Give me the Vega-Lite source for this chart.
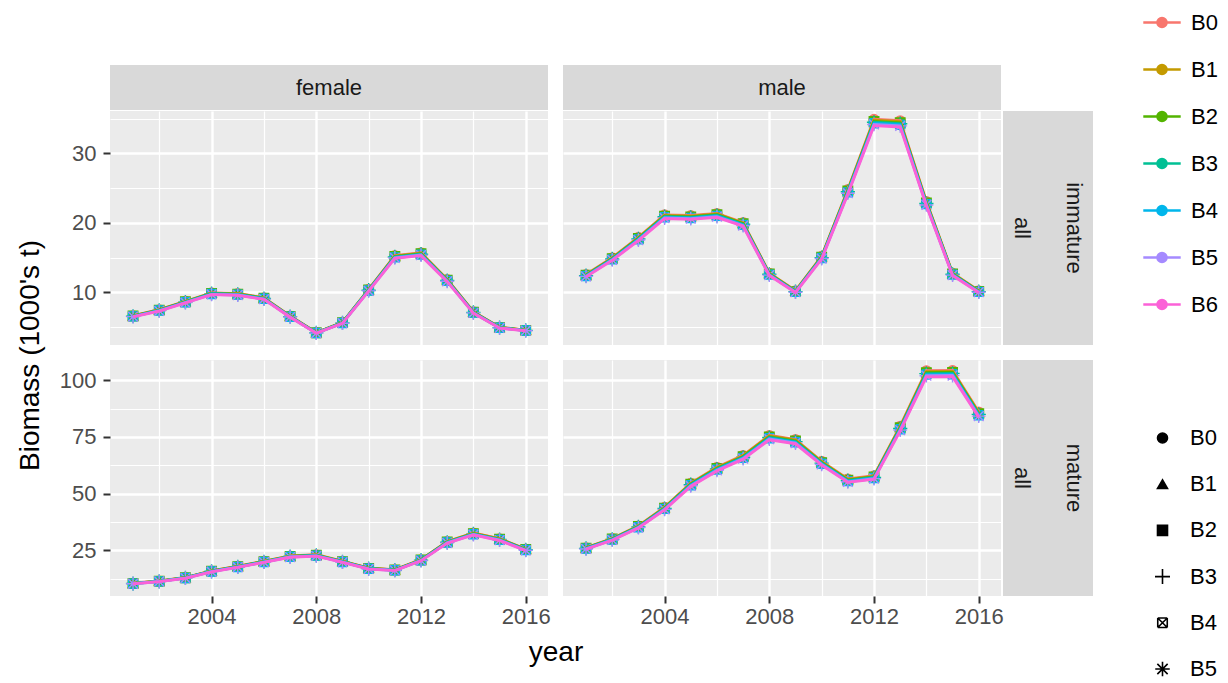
{
"$schema": "https://vega.github.io/schema/vega-lite/v6.json",
"padding": {"left": 16, "top": 2, "right": 0, "bottom": 0},
"datasets": {"bio": [
{"sex":"female","mat":"immature","year":2001,"B0":6.63,"B1":6.60,"B2":6.57,"B3":6.54,"B4":6.52,"B5":6.48,"B6":6.45},
{"sex":"female","mat":"immature","year":2002,"B0":7.49,"B1":7.46,"B2":7.42,"B3":7.39,"B4":7.36,"B5":7.33,"B6":7.29},
{"sex":"female","mat":"immature","year":2003,"B0":8.70,"B1":8.67,"B2":8.63,"B3":8.59,"B4":8.56,"B5":8.51,"B6":8.47},
{"sex":"female","mat":"immature","year":2004,"B0":9.92,"B1":9.88,"B2":9.83,"B3":9.79,"B4":9.75,"B5":9.70,"B6":9.65},
{"sex":"female","mat":"immature","year":2005,"B0":9.82,"B1":9.78,"B2":9.73,"B3":9.69,"B4":9.65,"B5":9.60,"B6":9.55},
{"sex":"female","mat":"immature","year":2006,"B0":9.21,"B1":9.17,"B2":9.13,"B3":9.09,"B4":9.05,"B5":9.01,"B6":8.96},
{"sex":"female","mat":"immature","year":2007,"B0":6.58,"B1":6.55,"B2":6.52,"B3":6.49,"B4":6.47,"B5":6.44,"B6":6.40},
{"sex":"female","mat":"immature","year":2008,"B0":4.20,"B1":4.18,"B2":4.16,"B3":4.15,"B4":4.13,"B5":4.11,"B6":4.09},
{"sex":"female","mat":"immature","year":2009,"B0":5.67,"B1":5.64,"B2":5.62,"B3":5.59,"B4":5.57,"B5":5.54,"B6":5.52},
{"sex":"female","mat":"immature","year":2010,"B0":10.42,"B1":10.38,"B2":10.33,"B3":10.29,"B4":10.25,"B5":10.20,"B6":10.15},
{"sex":"female","mat":"immature","year":2011,"B0":15.28,"B1":15.22,"B2":15.15,"B3":15.08,"B4":15.02,"B5":14.95,"B6":14.87},
{"sex":"female","mat":"immature","year":2012,"B0":15.69,"B1":15.62,"B2":15.55,"B3":15.48,"B4":15.42,"B5":15.35,"B6":15.27},
{"sex":"female","mat":"immature","year":2013,"B0":11.84,"B1":11.79,"B2":11.74,"B3":11.69,"B4":11.64,"B5":11.58,"B6":11.52},
{"sex":"female","mat":"immature","year":2014,"B0":7.19,"B1":7.16,"B2":7.12,"B3":7.09,"B4":7.06,"B5":7.03,"B6":6.99},
{"sex":"female","mat":"immature","year":2015,"B0":4.96,"B1":4.94,"B2":4.91,"B3":4.90,"B4":4.88,"B5":4.85,"B6":4.83},
{"sex":"female","mat":"immature","year":2016,"B0":4.55,"B1":4.54,"B2":4.51,"B3":4.50,"B4":4.48,"B5":4.46,"B6":4.43},
{"sex":"male","mat":"immature","year":2001,"B0":12.55,"B1":12.50,"B2":12.44,"B3":12.39,"B4":12.34,"B5":12.28,"B6":12.21},
{"sex":"male","mat":"immature","year":2002,"B0":14.98,"B1":14.92,"B2":14.84,"B3":14.79,"B4":14.73,"B5":14.65,"B6":14.58},
{"sex":"male","mat":"immature","year":2003,"B0":17.91,"B1":17.84,"B2":17.75,"B3":17.68,"B4":17.61,"B5":17.52,"B6":17.43},
{"sex":"male","mat":"immature","year":2004,"B0":21.15,"B1":21.07,"B2":20.96,"B3":20.88,"B4":20.80,"B5":20.69,"B6":20.59},
{"sex":"male","mat":"immature","year":2005,"B0":21.05,"B1":20.97,"B2":20.86,"B3":20.78,"B4":20.70,"B5":20.59,"B6":20.49},
{"sex":"male","mat":"immature","year":2006,"B0":21.35,"B1":21.27,"B2":21.16,"B3":21.08,"B4":20.99,"B5":20.89,"B6":20.78},
{"sex":"male","mat":"immature","year":2007,"B0":20.04,"B1":19.96,"B2":19.86,"B3":19.78,"B4":19.70,"B5":19.60,"B6":19.50},
{"sex":"male","mat":"immature","year":2008,"B0":12.75,"B1":12.70,"B2":12.64,"B3":12.59,"B4":12.54,"B5":12.47,"B6":12.41},
{"sex":"male","mat":"immature","year":2009,"B0":10.22,"B1":10.18,"B2":10.13,"B3":10.09,"B4":10.05,"B5":10.00,"B6":9.95},
{"sex":"male","mat":"immature","year":2010,"B0":15.18,"B1":15.12,"B2":15.05,"B3":14.99,"B4":14.93,"B5":14.85,"B6":14.78},
{"sex":"male","mat":"immature","year":2011,"B0":24.79,"B1":24.70,"B2":24.57,"B3":24.48,"B4":24.38,"B5":24.26,"B6":24.13},
{"sex":"male","mat":"immature","year":2012,"B0":34.91,"B1":34.78,"B2":34.60,"B3":34.47,"B4":34.33,"B5":34.16,"B6":33.98},
{"sex":"male","mat":"immature","year":2013,"B0":34.71,"B1":34.57,"B2":34.40,"B3":34.27,"B4":34.13,"B5":33.96,"B6":33.79},
{"sex":"male","mat":"immature","year":2014,"B0":23.07,"B1":22.98,"B2":22.87,"B3":22.78,"B4":22.69,"B5":22.57,"B6":22.46},
{"sex":"male","mat":"immature","year":2015,"B0":12.75,"B1":12.70,"B2":12.64,"B3":12.59,"B4":12.54,"B5":12.47,"B6":12.41},
{"sex":"male","mat":"immature","year":2016,"B0":10.22,"B1":10.18,"B2":10.13,"B3":10.09,"B4":10.05,"B5":10.00,"B6":9.95},
{"sex":"female","mat":"mature","year":2001,"B0":10.52,"B1":10.48,"B2":10.43,"B3":10.39,"B4":10.35,"B5":10.30,"B6":10.24},
{"sex":"female","mat":"mature","year":2002,"B0":11.54,"B1":11.49,"B2":11.43,"B3":11.39,"B4":11.34,"B5":11.29,"B6":11.23},
{"sex":"female","mat":"mature","year":2003,"B0":13.05,"B1":13.00,"B2":12.94,"B3":12.89,"B4":12.84,"B5":12.77,"B6":12.71},
{"sex":"female","mat":"mature","year":2004,"B0":15.99,"B1":15.93,"B2":15.85,"B3":15.78,"B4":15.72,"B5":15.64,"B6":15.56},
{"sex":"female","mat":"mature","year":2005,"B0":18.01,"B1":17.94,"B2":17.85,"B3":17.78,"B4":17.71,"B5":17.62,"B6":17.53},
{"sex":"female","mat":"mature","year":2006,"B0":20.24,"B1":20.16,"B2":20.06,"B3":19.98,"B4":19.90,"B5":19.80,"B6":19.70},
{"sex":"female","mat":"mature","year":2007,"B0":22.57,"B1":22.48,"B2":22.37,"B3":22.28,"B4":22.19,"B5":22.08,"B6":21.97},
{"sex":"female","mat":"mature","year":2008,"B0":23.07,"B1":22.98,"B2":22.87,"B3":22.78,"B4":22.69,"B5":22.57,"B6":22.46},
{"sex":"female","mat":"mature","year":2009,"B0":20.24,"B1":20.16,"B2":20.06,"B3":19.98,"B4":19.90,"B5":19.80,"B6":19.70},
{"sex":"female","mat":"mature","year":2010,"B0":17.20,"B1":17.14,"B2":17.05,"B3":16.98,"B4":16.92,"B5":16.83,"B6":16.75},
{"sex":"female","mat":"mature","year":2011,"B0":16.50,"B1":16.43,"B2":16.35,"B3":16.28,"B4":16.22,"B5":16.14,"B6":16.06},
{"sex":"female","mat":"mature","year":2012,"B0":20.95,"B1":20.87,"B2":20.76,"B3":20.68,"B4":20.60,"B5":20.49,"B6":20.39},
{"sex":"female","mat":"mature","year":2013,"B0":28.94,"B1":28.83,"B2":28.69,"B3":28.57,"B4":28.46,"B5":28.31,"B6":28.17},
{"sex":"female","mat":"mature","year":2014,"B0":32.69,"B1":32.56,"B2":32.40,"B3":32.27,"B4":32.14,"B5":31.98,"B6":31.82},
{"sex":"female","mat":"mature","year":2015,"B0":30.16,"B1":30.04,"B2":29.89,"B3":29.77,"B4":29.65,"B5":29.50,"B6":29.35},
{"sex":"female","mat":"mature","year":2016,"B0":25.60,"B1":25.50,"B2":25.38,"B3":25.27,"B4":25.17,"B5":25.05,"B6":24.92},
{"sex":"male","mat":"mature","year":2001,"B0":26.21,"B1":26.11,"B2":25.98,"B3":25.87,"B4":25.77,"B5":25.64,"B6":25.51},
{"sex":"male","mat":"mature","year":2002,"B0":30.26,"B1":30.14,"B2":29.99,"B3":29.87,"B4":29.75,"B5":29.60,"B6":29.45},
{"sex":"male","mat":"mature","year":2003,"B0":35.82,"B1":35.68,"B2":35.51,"B3":35.36,"B4":35.22,"B5":35.05,"B6":34.87},
{"sex":"male","mat":"mature","year":2004,"B0":44.02,"B1":43.85,"B2":43.63,"B3":43.46,"B4":43.28,"B5":43.07,"B6":42.85},
{"sex":"male","mat":"mature","year":2005,"B0":54.65,"B1":54.43,"B2":54.16,"B3":53.95,"B4":53.73,"B5":53.46,"B6":53.19},
{"sex":"male","mat":"mature","year":2006,"B0":61.63,"B1":61.39,"B2":61.08,"B3":60.84,"B4":60.60,"B5":60.29,"B6":59.99},
{"sex":"male","mat":"mature","year":2007,"B0":66.89,"B1":66.63,"B2":66.30,"B3":66.03,"B4":65.77,"B5":65.44,"B6":65.11},
{"sex":"male","mat":"mature","year":2008,"B0":75.70,"B1":75.40,"B2":75.02,"B3":74.73,"B4":74.43,"B5":74.05,"B6":73.68},
{"sex":"male","mat":"mature","year":2009,"B0":73.88,"B1":73.58,"B2":73.22,"B3":72.93,"B4":72.64,"B5":72.27,"B6":71.91},
{"sex":"male","mat":"mature","year":2010,"B0":64.26,"B1":64.01,"B2":63.69,"B3":63.44,"B4":63.18,"B5":62.87,"B6":62.55},
{"sex":"male","mat":"mature","year":2011,"B0":56.47,"B1":56.25,"B2":55.97,"B3":55.74,"B4":55.52,"B5":55.24,"B6":54.96},
{"sex":"male","mat":"mature","year":2012,"B0":57.89,"B1":57.66,"B2":57.37,"B3":57.14,"B4":56.91,"B5":56.63,"B6":56.34},
{"sex":"male","mat":"mature","year":2013,"B0":79.75,"B1":79.43,"B2":79.04,"B3":78.72,"B4":78.41,"B5":78.01,"B6":77.62},
{"sex":"male","mat":"mature","year":2014,"B0":104.24,"B1":103.82,"B2":103.31,"B3":102.90,"B4":102.49,"B5":101.97,"B6":101.46},
{"sex":"male","mat":"mature","year":2015,"B0":104.34,"B1":103.92,"B2":103.41,"B3":103.00,"B4":102.59,"B5":102.07,"B6":101.55},
{"sex":"male","mat":"mature","year":2016,"B0":86.02,"B1":85.68,"B2":85.26,"B3":84.92,"B4":84.58,"B5":84.15,"B6":83.73}
]},
"columns": 4,
"spacing": {"row": 1, "column": 2},
"bounds": "flush",
"align": "each",
"resolve": {"scale": {"color": "shared", "shape": "shared", "stroke": "shared"}},
"concat": [
{"width": 438, "height": 45, "view": {"fill": "#D9D9D9"}, "data": {"values": [{"lab": "female"}]}, "mark": {"type": "text", "fontSize": 22, "color": "#1A1A1A"}, "encoding": {"text": {"field": "lab", "type": "nominal"}}},
{"width": 10.5, "height": 1, "data": {"values": [{"lab": ""}]}, "mark": {"type": "text"}, "encoding": {"text": {"field": "lab", "type": "nominal"}}},
{"width": 438, "height": 45, "view": {"fill": "#D9D9D9"}, "data": {"values": [{"lab": "male"}]}, "mark": {"type": "text", "fontSize": 22, "color": "#1A1A1A"}, "encoding": {"text": {"field": "lab", "type": "nominal"}}},
{"width": 1, "height": 1, "data": {"values": [{"lab": ""}]}, "mark": {"type": "text"}, "encoding": {"text": {"field": "lab", "type": "nominal"}}},

{"width": 438, "height": 234, "view": {"fill": "#EBEBEB"}, "data": {"name": "bio"},
 "transform": [{"filter": "datum.sex === 'female' && datum.mat === 'immature'"}, {"fold": ["B0","B1","B2","B3","B4","B5","B6"], "as": ["series","value"]}],
 "encoding": {
  "x": {"field": "year", "type": "quantitative", "title": null, "scale": {"domain": [2000.12, 2016.85], "nice": false, "zero": false},
        "axis": {"values": [2002,2004,2006,2008,2010,2012,2014,2016], "labels": false, "ticks": false, "gridWidth": {"condition": {"test": "datum.value % 4 === 0", "value": 2.4}, "value": 1.2}}},
  "y": {"field": "value", "type": "quantitative", "title": "Biomass (1000's t)", "scale": {"domain": [2.4, 36.1], "nice": false, "zero": false},
        "axis": {"values": [5,10,15,20,25,30,35], "labelExpr": "datum.value % 10 === 0 ? '' + datum.value : ''", "tickOpacity": {"condition": {"test": "datum.value % 10 === 0", "value": 1}, "value": 0}, "gridWidth": {"condition": {"test": "datum.value % 10 === 0", "value": 2.4}, "value": 1.2}, "labelPadding": 7, "titleX": -80, "titleY": 244, "titleAngle": 270, "titleAlign": "center", "titleBaseline": "middle"}}
 },
 "layer": [
  {"transform": [{"filter": "datum.series !== 'B6'"}], "mark": {"type": "point", "filled": true, "size": 90, "opacity": 1, "strokeWidth": 1.4},
   "encoding": {
    "color": {"field": "series", "type": "nominal", "scale": {"domain": ["B0","B1","B2","B3","B4","B5","B6"], "range": ["#F8766D","#C49A00","#53B400","#00C094","#00B6EB","#A58AFF","#FB61D7"]},
      "legend": {"title": null, "orient": "none", "legendX": 1031.5, "legendY": -63, "symbolType": "M-1,0H1M0.24,0A0.24,0.24,0,1,1,-0.24,0A0.24,0.24,0,1,1,0.24,0Z", "symbolSize": 1400, "symbolStrokeWidth": 2.6, "labelFontSize": 22, "labelColor": "#000000", "labelOffset": 8.5, "rowPadding": 15, "padding": 0}},
    "shape": {"field": "series", "type": "nominal", "scale": {"domain": ["B0","B1","B2","B3","B4","B5"], "range": ["circle","triangle-up","square","M-1.5,0H1.5M0,-1.5V1.5","M-0.95,-0.95H0.95M0.95,-0.95V0.95M0.95,0.95H-0.95M-0.95,0.95V-0.95M-0.95,-0.95L0.95,0.95M0.95,-0.95L-0.95,0.95","M0,-1.45V1.45M-1.45,0H1.45M-1.03,-1.03L1.03,1.03M1.03,-1.03L-1.03,1.03"]},
      "legend": {"title": null, "orient": "none", "legendX": 1041.5, "legendY": 362, "symbolSize": 100, "symbolFillColor": "#000000", "symbolStrokeColor": "#000000", "symbolStrokeWidth": 1.6, "labelFontSize": 22, "labelColor": "#000000", "labelOffset": 16.5, "rowPadding": 24.2, "padding": 0,
        "encode": {"symbols": {"fill": {"value": "#000000"}, "stroke": {"value": "#000000"}, "strokeWidth": {"value": 1.6}, "opacity": {"value": 1}}}}},
    "stroke": {"field": "series", "type": "nominal", "scale": {"domain": ["B0","B1","B2","B3","B4","B5","B6"], "range": ["#F8766D","#C49A00","#53B400","#00C094","#00B6EB","#A58AFF","#FB61D7"]}, "legend": null}
   }},
  {"mark": {"type": "line", "strokeWidth": 2.8},
   "encoding": {"color": {"field": "series", "type": "nominal", "scale": {"domain": ["B0","B1","B2","B3","B4","B5","B6"], "range": ["#F8766D","#C49A00","#53B400","#00C094","#00B6EB","#A58AFF","#FB61D7"]},
      "legend": {"title": null, "orient": "none", "legendX": 1031.5, "legendY": -63, "symbolType": "M-1,0H1M0.24,0A0.24,0.24,0,1,1,-0.24,0A0.24,0.24,0,1,1,0.24,0Z", "symbolSize": 1400, "symbolStrokeWidth": 2.6, "labelFontSize": 22, "labelColor": "#000000", "labelOffset": 8.5, "rowPadding": 15, "padding": 0}}}}
 ]},
{"width": 10.5, "height": 1, "data": {"values": [{"lab": ""}]}, "mark": {"type": "text"}, "encoding": {"text": {"field": "lab", "type": "nominal"}}},
{"width": 438, "height": 234, "view": {"fill": "#EBEBEB"}, "data": {"name": "bio"},
 "transform": [{"filter": "datum.sex === 'male' && datum.mat === 'immature'"}, {"fold": ["B0","B1","B2","B3","B4","B5","B6"], "as": ["series","value"]}],
 "encoding": {
  "x": {"field": "year", "type": "quantitative", "title": null, "scale": {"domain": [2000.12, 2016.85], "nice": false, "zero": false},
        "axis": {"values": [2002,2004,2006,2008,2010,2012,2014,2016], "labels": false, "ticks": false, "gridWidth": {"condition": {"test": "datum.value % 4 === 0", "value": 2.4}, "value": 1.2}}},
  "y": {"field": "value", "type": "quantitative", "title": null, "scale": {"domain": [2.4, 36.1], "nice": false, "zero": false},
        "axis": {"values": [5,10,15,20,25,30,35], "labels": false, "ticks": false, "gridWidth": {"condition": {"test": "datum.value % 10 === 0", "value": 2.4}, "value": 1.2}}}
 },
 "layer": [
  {"transform": [{"filter": "datum.series !== 'B6'"}], "mark": {"type": "point", "filled": true, "size": 90, "opacity": 1, "strokeWidth": 1.4},
   "encoding": {
    "color": {"field": "series", "type": "nominal", "scale": {"domain": ["B0","B1","B2","B3","B4","B5","B6"], "range": ["#F8766D","#C49A00","#53B400","#00C094","#00B6EB","#A58AFF","#FB61D7"]},
      "legend": {"title": null, "orient": "none", "legendX": 1031.5, "legendY": -63, "symbolType": "M-1,0H1M0.24,0A0.24,0.24,0,1,1,-0.24,0A0.24,0.24,0,1,1,0.24,0Z", "symbolSize": 1400, "symbolStrokeWidth": 2.6, "labelFontSize": 22, "labelColor": "#000000", "labelOffset": 8.5, "rowPadding": 15, "padding": 0}},
    "shape": {"field": "series", "type": "nominal", "scale": {"domain": ["B0","B1","B2","B3","B4","B5"], "range": ["circle","triangle-up","square","M-1.5,0H1.5M0,-1.5V1.5","M-0.95,-0.95H0.95M0.95,-0.95V0.95M0.95,0.95H-0.95M-0.95,0.95V-0.95M-0.95,-0.95L0.95,0.95M0.95,-0.95L-0.95,0.95","M0,-1.45V1.45M-1.45,0H1.45M-1.03,-1.03L1.03,1.03M1.03,-1.03L-1.03,1.03"]},
      "legend": {"title": null, "orient": "none", "legendX": 1041.5, "legendY": 362, "symbolSize": 100, "symbolFillColor": "#000000", "symbolStrokeColor": "#000000", "symbolStrokeWidth": 1.6, "labelFontSize": 22, "labelColor": "#000000", "labelOffset": 16.5, "rowPadding": 24.2, "padding": 0,
        "encode": {"symbols": {"fill": {"value": "#000000"}, "stroke": {"value": "#000000"}, "strokeWidth": {"value": 1.6}, "opacity": {"value": 1}}}}},
    "stroke": {"field": "series", "type": "nominal", "scale": {"domain": ["B0","B1","B2","B3","B4","B5","B6"], "range": ["#F8766D","#C49A00","#53B400","#00C094","#00B6EB","#A58AFF","#FB61D7"]}, "legend": null}
   }},
  {"mark": {"type": "line", "strokeWidth": 2.8},
   "encoding": {"color": {"field": "series", "type": "nominal", "scale": {"domain": ["B0","B1","B2","B3","B4","B5","B6"], "range": ["#F8766D","#C49A00","#53B400","#00C094","#00B6EB","#A58AFF","#FB61D7"]},
      "legend": {"title": null, "orient": "none", "legendX": 1031.5, "legendY": -63, "symbolType": "M-1,0H1M0.24,0A0.24,0.24,0,1,1,-0.24,0A0.24,0.24,0,1,1,0.24,0Z", "symbolSize": 1400, "symbolStrokeWidth": 2.6, "labelFontSize": 22, "labelColor": "#000000", "labelOffset": 8.5, "rowPadding": 15, "padding": 0}}}}
 ]},
{"width": 90, "height": 234, "view": {"fill": "#D9D9D9"}, "data": {"values": [{"lab": "immature\nall"}]}, "mark": {"type": "text", "fontSize": 22, "color": "#1A1A1A", "angle": 90, "lineBreak": "\n", "lineHeight": 52, "dy": -26}, "encoding": {"text": {"field": "lab", "type": "nominal"}}},

{"width": 1, "height": 13, "data": {"values": [{"lab": ""}]}, "mark": {"type": "text"}, "encoding": {"text": {"field": "lab", "type": "nominal"}}},
{"width": 10.5, "height": 13, "data": {"values": [{"lab": ""}]}, "mark": {"type": "text"}, "encoding": {"text": {"field": "lab", "type": "nominal"}}},
{"width": 1, "height": 13, "data": {"values": [{"lab": ""}]}, "mark": {"type": "text"}, "encoding": {"text": {"field": "lab", "type": "nominal"}}},
{"width": 1, "height": 13, "data": {"values": [{"lab": ""}]}, "mark": {"type": "text"}, "encoding": {"text": {"field": "lab", "type": "nominal"}}},

{"width": 438, "height": 236, "view": {"fill": "#EBEBEB"}, "data": {"name": "bio"},
 "transform": [{"filter": "datum.sex === 'female' && datum.mat === 'mature'"}, {"fold": ["B0","B1","B2","B3","B4","B5","B6"], "as": ["series","value"]}],
 "encoding": {
  "x": {"field": "year", "type": "quantitative", "title": "year", "scale": {"domain": [2000.12, 2016.85], "nice": false, "zero": false},
        "axis": {"values": [2002,2004,2006,2008,2010,2012,2014,2016], "labelExpr": "datum.value % 4 === 0 ? '' + datum.value : ''", "tickOpacity": {"condition": {"test": "datum.value % 4 === 0", "value": 1}, "value": 0}, "gridWidth": {"condition": {"test": "datum.value % 4 === 0", "value": 2.4}, "value": 1.2}, "labelPadding": 3, "titleX": 445.5, "titleY": 64, "titleAlign": "center", "titleBaseline": "alphabetic"}},
  "y": {"field": "value", "type": "quantitative", "title": null, "scale": {"domain": [4.9, 108.9], "nice": false, "zero": false},
        "axis": {"values": [12.5,25,37.5,50,62.5,75,87.5,100], "labelExpr": "datum.value % 25 === 0 ? '' + datum.value : ''", "tickOpacity": {"condition": {"test": "datum.value % 25 === 0", "value": 1}, "value": 0}, "gridWidth": {"condition": {"test": "datum.value % 25 === 0", "value": 2.4}, "value": 1.2}, "labelPadding": 7}}
 },
 "layer": [
  {"transform": [{"filter": "datum.series !== 'B6'"}], "mark": {"type": "point", "filled": true, "size": 90, "opacity": 1, "strokeWidth": 1.4},
   "encoding": {
    "color": {"field": "series", "type": "nominal", "scale": {"domain": ["B0","B1","B2","B3","B4","B5","B6"], "range": ["#F8766D","#C49A00","#53B400","#00C094","#00B6EB","#A58AFF","#FB61D7"]},
      "legend": {"title": null, "orient": "none", "legendX": 1031.5, "legendY": -63, "symbolType": "M-1,0H1M0.24,0A0.24,0.24,0,1,1,-0.24,0A0.24,0.24,0,1,1,0.24,0Z", "symbolSize": 1400, "symbolStrokeWidth": 2.6, "labelFontSize": 22, "labelColor": "#000000", "labelOffset": 8.5, "rowPadding": 15, "padding": 0}},
    "shape": {"field": "series", "type": "nominal", "scale": {"domain": ["B0","B1","B2","B3","B4","B5"], "range": ["circle","triangle-up","square","M-1.5,0H1.5M0,-1.5V1.5","M-0.95,-0.95H0.95M0.95,-0.95V0.95M0.95,0.95H-0.95M-0.95,0.95V-0.95M-0.95,-0.95L0.95,0.95M0.95,-0.95L-0.95,0.95","M0,-1.45V1.45M-1.45,0H1.45M-1.03,-1.03L1.03,1.03M1.03,-1.03L-1.03,1.03"]},
      "legend": {"title": null, "orient": "none", "legendX": 1041.5, "legendY": 362, "symbolSize": 100, "symbolFillColor": "#000000", "symbolStrokeColor": "#000000", "symbolStrokeWidth": 1.6, "labelFontSize": 22, "labelColor": "#000000", "labelOffset": 16.5, "rowPadding": 24.2, "padding": 0,
        "encode": {"symbols": {"fill": {"value": "#000000"}, "stroke": {"value": "#000000"}, "strokeWidth": {"value": 1.6}, "opacity": {"value": 1}}}}},
    "stroke": {"field": "series", "type": "nominal", "scale": {"domain": ["B0","B1","B2","B3","B4","B5","B6"], "range": ["#F8766D","#C49A00","#53B400","#00C094","#00B6EB","#A58AFF","#FB61D7"]}, "legend": null}
   }},
  {"mark": {"type": "line", "strokeWidth": 2.8},
   "encoding": {"color": {"field": "series", "type": "nominal", "scale": {"domain": ["B0","B1","B2","B3","B4","B5","B6"], "range": ["#F8766D","#C49A00","#53B400","#00C094","#00B6EB","#A58AFF","#FB61D7"]},
      "legend": {"title": null, "orient": "none", "legendX": 1031.5, "legendY": -63, "symbolType": "M-1,0H1M0.24,0A0.24,0.24,0,1,1,-0.24,0A0.24,0.24,0,1,1,0.24,0Z", "symbolSize": 1400, "symbolStrokeWidth": 2.6, "labelFontSize": 22, "labelColor": "#000000", "labelOffset": 8.5, "rowPadding": 15, "padding": 0}}}}
 ]},
{"width": 10.5, "height": 1, "data": {"values": [{"lab": ""}]}, "mark": {"type": "text"}, "encoding": {"text": {"field": "lab", "type": "nominal"}}},
{"width": 438, "height": 236, "view": {"fill": "#EBEBEB"}, "data": {"name": "bio"},
 "transform": [{"filter": "datum.sex === 'male' && datum.mat === 'mature'"}, {"fold": ["B0","B1","B2","B3","B4","B5","B6"], "as": ["series","value"]}],
 "encoding": {
  "x": {"field": "year", "type": "quantitative", "title": null, "scale": {"domain": [2000.12, 2016.85], "nice": false, "zero": false},
        "axis": {"values": [2002,2004,2006,2008,2010,2012,2014,2016], "labelExpr": "datum.value % 4 === 0 ? '' + datum.value : ''", "tickOpacity": {"condition": {"test": "datum.value % 4 === 0", "value": 1}, "value": 0}, "gridWidth": {"condition": {"test": "datum.value % 4 === 0", "value": 2.4}, "value": 1.2}, "labelPadding": 3}},
  "y": {"field": "value", "type": "quantitative", "title": null, "scale": {"domain": [4.9, 108.9], "nice": false, "zero": false},
        "axis": {"values": [12.5,25,37.5,50,62.5,75,87.5,100], "labels": false, "ticks": false, "gridWidth": {"condition": {"test": "datum.value % 25 === 0", "value": 2.4}, "value": 1.2}}}
 },
 "layer": [
  {"transform": [{"filter": "datum.series !== 'B6'"}], "mark": {"type": "point", "filled": true, "size": 90, "opacity": 1, "strokeWidth": 1.4},
   "encoding": {
    "color": {"field": "series", "type": "nominal", "scale": {"domain": ["B0","B1","B2","B3","B4","B5","B6"], "range": ["#F8766D","#C49A00","#53B400","#00C094","#00B6EB","#A58AFF","#FB61D7"]},
      "legend": {"title": null, "orient": "none", "legendX": 1031.5, "legendY": -63, "symbolType": "M-1,0H1M0.24,0A0.24,0.24,0,1,1,-0.24,0A0.24,0.24,0,1,1,0.24,0Z", "symbolSize": 1400, "symbolStrokeWidth": 2.6, "labelFontSize": 22, "labelColor": "#000000", "labelOffset": 8.5, "rowPadding": 15, "padding": 0}},
    "shape": {"field": "series", "type": "nominal", "scale": {"domain": ["B0","B1","B2","B3","B4","B5"], "range": ["circle","triangle-up","square","M-1.5,0H1.5M0,-1.5V1.5","M-0.95,-0.95H0.95M0.95,-0.95V0.95M0.95,0.95H-0.95M-0.95,0.95V-0.95M-0.95,-0.95L0.95,0.95M0.95,-0.95L-0.95,0.95","M0,-1.45V1.45M-1.45,0H1.45M-1.03,-1.03L1.03,1.03M1.03,-1.03L-1.03,1.03"]},
      "legend": {"title": null, "orient": "none", "legendX": 1041.5, "legendY": 362, "symbolSize": 100, "symbolFillColor": "#000000", "symbolStrokeColor": "#000000", "symbolStrokeWidth": 1.6, "labelFontSize": 22, "labelColor": "#000000", "labelOffset": 16.5, "rowPadding": 24.2, "padding": 0,
        "encode": {"symbols": {"fill": {"value": "#000000"}, "stroke": {"value": "#000000"}, "strokeWidth": {"value": 1.6}, "opacity": {"value": 1}}}}},
    "stroke": {"field": "series", "type": "nominal", "scale": {"domain": ["B0","B1","B2","B3","B4","B5","B6"], "range": ["#F8766D","#C49A00","#53B400","#00C094","#00B6EB","#A58AFF","#FB61D7"]}, "legend": null}
   }},
  {"mark": {"type": "line", "strokeWidth": 2.8},
   "encoding": {"color": {"field": "series", "type": "nominal", "scale": {"domain": ["B0","B1","B2","B3","B4","B5","B6"], "range": ["#F8766D","#C49A00","#53B400","#00C094","#00B6EB","#A58AFF","#FB61D7"]},
      "legend": {"title": null, "orient": "none", "legendX": 1031.5, "legendY": -63, "symbolType": "M-1,0H1M0.24,0A0.24,0.24,0,1,1,-0.24,0A0.24,0.24,0,1,1,0.24,0Z", "symbolSize": 1400, "symbolStrokeWidth": 2.6, "labelFontSize": 22, "labelColor": "#000000", "labelOffset": 8.5, "rowPadding": 15, "padding": 0}}}}
 ]},
{"width": 90, "height": 236, "view": {"fill": "#D9D9D9"}, "data": {"values": [{"lab": "mature\nall"}]}, "mark": {"type": "text", "fontSize": 22, "color": "#1A1A1A", "angle": 90, "lineBreak": "\n", "lineHeight": 52, "dy": -26}, "encoding": {"text": {"field": "lab", "type": "nominal"}}}
],
"config": {
 "font": "Liberation Sans",
 "view": {"stroke": null},
 "axis": {"domain": false, "gridColor": "#FFFFFF", "gridOpacity": 1, "tickColor": "#333333", "tickWidth": 2, "tickSize": 7, "labelColor": "#4D4D4D", "labelFontSize": 22, "labelOverlap": false, "labelFlush": false, "labelBound": false, "titleFontSize": 28, "titleFontWeight": "normal", "titleColor": "#000000"},
 "legend": {"labelFontSize": 22, "labelColor": "#000000", "padding": 0}
}
}
